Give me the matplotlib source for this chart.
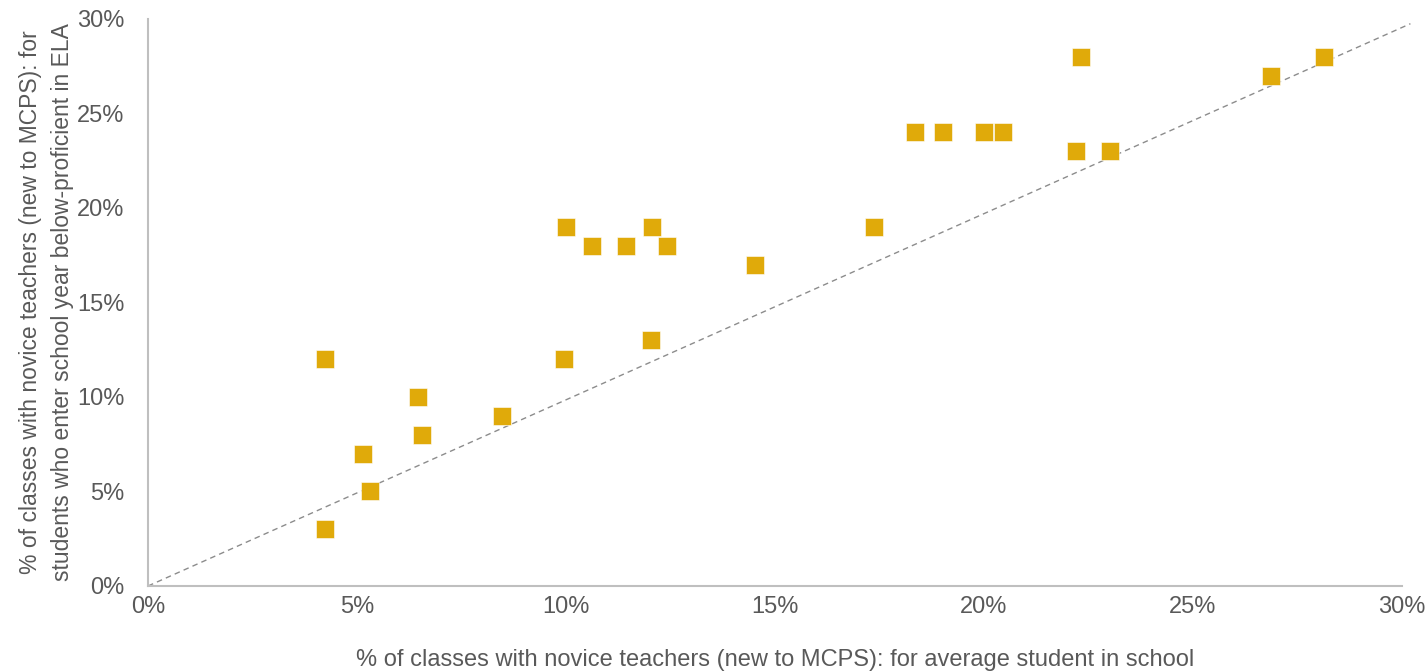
import matplotlib.pyplot as plt
from matplotlib.ticker import PercentFormatter

# % of classes with novice teachers: average student (x) vs below-proficient ELA students (y)
avg_student = [4.23, 4.23, 5.14, 5.31, 6.46, 6.56, 8.47, 9.95, 10.0, 10.62,
               11.44, 12.05, 12.03, 12.42, 14.52, 17.37, 18.35, 19.02, 20.0, 20.45,
               22.2, 22.32, 23.01, 26.87, 28.13]
below_prof = [3, 12, 7, 5, 10, 8, 9, 12, 19, 18,
              18, 19, 13, 18, 17, 19, 24, 24, 24, 24,
              23, 28, 23, 27, 28]

# parity reference line (as drawn in the original, runs slightly past the axes)
diag_x = [0, 30.2]
diag_y = [0, 29.75]

ticks = [0, 5, 10, 15, 20, 25, 30]

plt.rcParams['font.family'] = ['Liberation Sans Narrow', 'Liberation Sans', 'DejaVu Sans']
grey_txt = '#595959'

fig = plt.figure(figsize=(14.25, 6.71), dpi=100)
ax = fig.add_axes([0.1039, 0.1267, 0.88, 0.845])

ax.plot(diag_x, diag_y, color='#8c8c8c', lw=1.0, ls=(0, (4, 3)), clip_on=False, zorder=1)
ax.scatter(avg_student, below_prof, marker='s', s=168, color='#E0AA0A',
           edgecolors='white', linewidths=0.4, zorder=3)

ax.set_xlim(0, 30)
ax.set_ylim(0, 30)
ax.set_xticks(ticks)
ax.set_yticks(ticks)
ax.xaxis.set_major_formatter(PercentFormatter(decimals=0))
ax.yaxis.set_major_formatter(PercentFormatter(decimals=0))
ax.tick_params(length=0, labelsize=17, colors=grey_txt)
ax.tick_params(axis='x', pad=7.5)
ax.tick_params(axis='y', pad=17)

for side in ['top', 'right']:
    ax.spines[side].set_visible(False)
for side in ['left', 'bottom']:
    ax.spines[side].set_color('#BFBFBF')
    ax.spines[side].set_linewidth(1.5)

ax.set_xlabel('% of classes with novice teachers (new to MCPS): for average student in school',
              fontsize=17, color=grey_txt, labelpad=22)
ax.set_ylabel('% of classes with novice teachers (new to MCPS): for\nstudents who enter school year below-proficient in ELA',
              fontsize=16.5, color=grey_txt, labelpad=2, linespacing=1.5)

fig.savefig('out.png', dpi=100)
